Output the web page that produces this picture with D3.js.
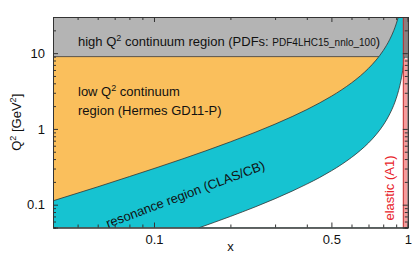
<!DOCTYPE html>
<html>
<head>
<meta charset="utf-8">
<script src="https://cdn.jsdelivr.net/npm/d3@7/dist/d3.min.js"></script>
<style>
  body { margin: 0; background: #fff; }
  svg { display: block; font-family: 'Liberation Sans', Arial, sans-serif; }
</style>
</head>
<body>
<script>
const xDomain = [0.04, 1]
const yDomain = [0.05, 30]
const xTickLabels = [0.1, 0.5, 1]
const yTickLabels = [0.1, 1, 10]
const highQ2Cut = 9
const elasticBand = [0.96, 1]

const resonanceUpper = [
  [0.04, 0.1125], [0.06, 0.172], [0.08, 0.235], [0.1, 0.30], [0.13, 0.403],
  [0.16, 0.514], [0.2, 0.675], [0.25, 0.90], [0.3, 1.157], [0.35, 1.454],
  [0.4, 1.80], [0.45, 2.21], [0.5, 2.70], [0.55, 3.30], [0.6, 4.05],
  [0.65, 5.01], [0.7, 6.30], [0.75, 8.10], [0.8, 10.8], [0.85, 15.3],
  [0.88, 19.8], [0.9, 24.3], [0.92, 31.0]
]
// cyan / white boundary (pion threshold)
const resonanceLower = [
  [0.15, 0.0494], [0.2, 0.070], [0.25, 0.0933], [0.3, 0.120], [0.35, 0.151],
  [0.4, 0.187], [0.45, 0.229], [0.5, 0.280], [0.55, 0.342], [0.6, 0.420],
  [0.65, 0.520], [0.7, 0.653], [0.75, 0.840], [0.8, 1.12], [0.85, 1.59],
  [0.88, 2.05], [0.9, 2.52], [0.92, 3.22], [0.94, 4.39], [0.96, 6.72],
  [0.97, 9.05], [0.98, 13.7], [0.99, 27.7], [0.992, 34.7]
]

const width = 415
const height = 259
const margin = { top: 17, right: 7.2, bottom: 31.5, left: 53 }

const x = d3.scaleLog().domain(xDomain).range([margin.left, width - margin.right])
const y = d3.scaleLog().domain(yDomain).range([height - margin.bottom, margin.top])
const x0 = x.range()[0], x1 = x.range()[1]
const yB = y.range()[0], yT = y.range()[1]

const svg = d3.select('body').append('svg').attr('width', width).attr('height', height)

svg.append('clipPath').attr('id', 'plot-clip')
  .append('rect')
  .attr('x', x0).attr('y', yT).attr('width', x1 - x0).attr('height', yB - yT)

const plot = svg.append('g').attr('clip-path', 'url(#plot-clip)')

plot.append('rect')
  .attr('x', x0).attr('y', yT).attr('width', x1 - x0).attr('height', y(highQ2Cut) - yT)
  .attr('fill', '#b4b4b4')

plot.append('rect')
  .attr('x', x0).attr('y', y(highQ2Cut)).attr('width', x1 - x0).attr('height', yB - y(highQ2Cut))
  .attr('fill', '#fabf5c')

plot.append('line')
  .attr('x1', x0).attr('x2', x1).attr('y1', y(highQ2Cut)).attr('y2', y(highQ2Cut))
  .attr('stroke', '#333').attr('stroke-width', 0.8)

const line = d3.line().x(d => x(d[0])).y(d => y(d[1])).curve(d3.curveMonotoneX)

plot.append('path')
  .attr('d', line(resonanceUpper) + `L${x1 + 3},${yT - 3}L${x1 + 3},${yB + 3}L${x0 - 3},${yB + 3}Z`)
  .attr('fill', '#16c3d1')

plot.append('path')
  .attr('d', line(resonanceLower) + `L${x1 + 3},${yT - 3}L${x1 + 3},${yB + 3}Z`)
  .attr('fill', '#fff')

plot.selectAll('.boundary')
  .data([resonanceUpper, resonanceLower])
  .join('path')
  .attr('class', 'boundary')
  .attr('d', line)
  .attr('fill', 'none')
  .attr('stroke', '#333')
  .attr('stroke-width', 0.8)

// elastic band at x -> 1
const bx = x(elasticBand[0]), bw = x(elasticBand[1]) - x(elasticBand[0])
plot.append('rect')
  .attr('x', bx).attr('y', yT).attr('width', bw).attr('height', y(highQ2Cut) - yT)
  .attr('fill', '#8e7e7e')
plot.append('rect')
  .attr('x', bx).attr('y', y(highQ2Cut) + 2).attr('width', bw).attr('height', yB - y(highQ2Cut) - 2)
  .attr('fill', '#f59c9c')
plot.append('line')
  .attr('x1', bx).attr('x2', bx).attr('y1', yT).attr('y2', yB)
  .attr('stroke', '#c0282a').attr('stroke-width', 1)

// axes: ticks point inward on all four sides
const xMinor = x.ticks().filter(t => !xTickLabels.some(v => Math.abs(v - t) < 1e-9))
const yMinor = y.ticks().filter(t => !yTickLabels.some(v => Math.abs(v - t) < 1e-9))

function styleAxis(g) {
  g.attr('font-family', null).attr('font-size', 13)
  g.selectAll('line').attr('stroke', '#333')
  g.selectAll('text').attr('fill', '#111')
  g.select('.domain').attr('stroke', '#333')
}

svg.append('g')
  .attr('transform', `translate(0,${yB})`)
  .call(d3.axisBottom(x).tickValues(xMinor).tickSize(-3).tickFormat(''))
  .call(styleAxis)
svg.append('g')
  .attr('transform', `translate(0,${yB})`)
  .call(d3.axisBottom(x).tickValues(xTickLabels).tickSize(-5).tickPadding(7).tickFormat(d3.format('~g')))
  .call(styleAxis)
svg.append('g')
  .attr('transform', `translate(0,${yT})`)
  .call(d3.axisTop(x).tickValues(xMinor).tickSize(-3).tickFormat(''))
  .call(styleAxis)
svg.append('g')
  .attr('transform', `translate(0,${yT})`)
  .call(d3.axisTop(x).tickValues(xTickLabels).tickSize(-5).tickFormat(''))
  .call(styleAxis)

svg.append('g')
  .attr('transform', `translate(${x0},0)`)
  .call(d3.axisLeft(y).tickValues(yMinor).tickSize(-3).tickFormat(''))
  .call(styleAxis)
svg.append('g')
  .attr('transform', `translate(${x0},0)`)
  .call(d3.axisLeft(y).tickValues(yTickLabels).tickSize(-5).tickPadding(8).tickFormat(d3.format('~g')))
  .call(styleAxis)
svg.append('g')
  .attr('transform', `translate(${x1},0)`)
  .call(d3.axisRight(y).tickValues(yMinor).tickSize(-3).tickFormat(''))
  .call(styleAxis)
svg.append('g')
  .attr('transform', `translate(${x1},0)`)
  .call(d3.axisRight(y).tickValues(yTickLabels).tickSize(-5).tickFormat(''))
  .call(styleAxis)

// axis titles
svg.append('text')
  .attr('x', (x0 + x1) / 2).attr('y', 251)
  .attr('text-anchor', 'middle').attr('font-size', 13).attr('fill', '#111')
  .text('x')

const yLabel = svg.append('text')
  .attr('transform', `translate(21,${(yT + yB) / 2}) rotate(-90)`)
  .attr('text-anchor', 'middle').attr('font-size', 13).attr('fill', '#111')
yLabel.append('tspan').text('Q')
yLabel.append('tspan').attr('dy', -5).attr('font-size', 9).text('2')
yLabel.append('tspan').attr('dy', 5).text(' [GeV')
yLabel.append('tspan').attr('dy', -5).attr('font-size', 9).text('2')
yLabel.append('tspan').attr('dy', 5).text(']')

// region labels
const high = svg.append('text').attr('x', 78).attr('y', 46).attr('font-size', 13).attr('fill', '#111')
high.append('tspan').text('high Q')
high.append('tspan').attr('dy', -5).attr('font-size', 9).text('2')
high.append('tspan').attr('dy', 5).text(' continuum region (PDFs: ')
high.append('tspan').attr('font-size', 10).text('PDF4LHC15_nnlo_100')
high.append('tspan').text(')')

const low = svg.append('text').attr('x', 78).attr('y', 96).attr('font-size', 13).attr('fill', '#111')
low.append('tspan').text('low Q')
low.append('tspan').attr('dy', -5).attr('font-size', 9).text('2')
low.append('tspan').attr('dy', 5).text(' continuum')
svg.append('text').attr('x', 78).attr('y', 115).attr('font-size', 13).attr('fill', '#111')
  .text('region (Hermes GD11-P)')

svg.append('text')
  .attr('transform', 'translate(108,228) rotate(-20.5)')
  .attr('font-size', 13).attr('fill', '#111')
  .text('resonance region (CLAS/CB)')

svg.append('text')
  .attr('transform', 'translate(394,188) rotate(-90)')
  .attr('text-anchor', 'middle').attr('font-size', 13).attr('fill', '#e8232a')
  .text('elastic (A1)')
</script>
</body>
</html>
